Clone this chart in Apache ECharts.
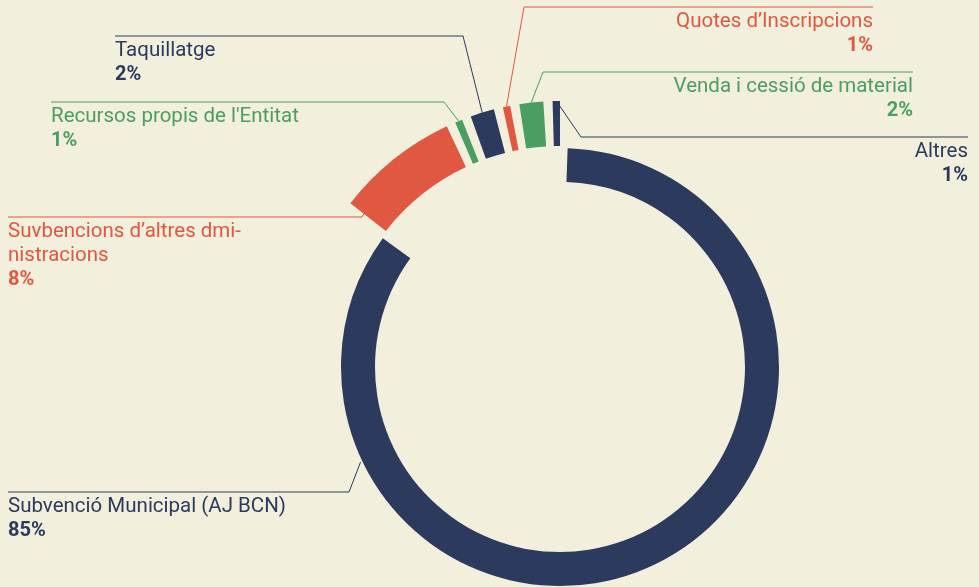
<!DOCTYPE html>
<html>
<head>
<meta charset="utf-8">
<script src="https://cdn.jsdelivr.net/npm/echarts@6/dist/echarts.min.js"></script>
<style>
    html, body { margin: 0; padding: 0; background: #f2efdc; }
    #main { width: 979px; height: 587px; }
</style>
</head>
<body>
<div id="main"></div>
<script>
    // dades del pressupost (ingressos)
    const categories = [
        'Subvenció Municipal (AJ BCN)',
        'Suvbencions d’altres dmi-\nnistracions',
        "Recursos propis de l'Entitat",
        'Taquillatge',
        'Quotes d’Inscripcions',
        'Venda i cessió de material',
        'Altres'
    ];
    const values = [85, 8, 1, 2, 1, 2, 1];

    const navy = '#2b3a5d', red = '#e05842', green = '#4a9e62';
    const colors = [navy, red, green, navy, red, green, navy];

    // on va cada etiqueta: costat, x del text, y de la línia, x del colze
    const labelSpots = [
        {side: 'left', textX: 8, lineY: 492, elbowX: 349},
        {side: 'left', textX: 8, lineY: 217, elbowX: 362},
        {side: 'left', textX: 51, lineY: 102, elbowX: 444},
        {side: 'left', textX: 115, lineY: 36, elbowX: 463},
        {side: 'right', textX: 873, lineY: 7, elbowX: 524},
        {side: 'right', textX: 913, lineY: 72, elbowX: 543},
        {side: 'right', textX: 968, lineY: 137, elbowX: 581}
    ];

    const center = [560, 367];
    const innerRing = [185, 219];
    const outerRing = [221, 266];

    function ringPoint(deg, r) {
        let a = deg * Math.PI / 180;
        return [center[0] + r * Math.sin(a), center[1] - r * Math.cos(a)];
    }

    function placeLabel(params) {
        let s = labelSpots[params.dataIndex];
        let anchor = params.dataIndex === 0
            ? ringPoint(244.5, innerRing[1] + 2)
            : (params.labelLinePoints ? params.labelLinePoints[0] : [s.elbowX, s.lineY]);
        return {
            x: s.textX,
            y: s.lineY + 3,
            align: s.side,
            verticalAlign: 'top',
            labelLinePoints: [anchor, [s.elbowX, s.lineY], [s.textX, s.lineY]]
        };
    }

    function buildData(showMain) {
        return categories.map(function (name, i) {
            let visible = (i === 0) === showMain;
            return {
                name: name,
                value: values[i],
                itemStyle: {color: visible ? colors[i] : 'transparent'},
                label: {show: visible, color: colors[i]},
                labelLine: {show: visible, lineStyle: {color: colors[i], width: 1}}
            };
        });
    }

    let label = {
        position: 'outside',
        formatter: function (p) {
            return '{n|' + p.name + '}\n{p|' + p.value + '%}';
        },
        rich: {
            n: {fontFamily: 'Roboto', fontSize: 20.5, lineHeight: 24},
            p: {fontFamily: 'Roboto', fontSize: 20, lineHeight: 24, fontWeight: 'bold'}
        }
    };

    let myChart = echarts.init(document.getElementById('main'));
    let option = {
        backgroundColor: '#f2efdc',
        animation: false,
        series: [
            {
                type: 'pie',
                center: center,
                radius: innerRing,
                startAngle: 89,
                padAngle: 2,
                avoidLabelOverlap: false,
                silent: true,
                label: label,
                labelLine: {show: true},
                labelLayout: placeLabel,
                data: buildData(true)
            },
            {
                type: 'pie',
                center: center,
                radius: outerRing,
                startAngle: 89,
                padAngle: 2,
                avoidLabelOverlap: false,
                silent: true,
                label: label,
                labelLine: {show: true},
                labelLayout: placeLabel,
                data: buildData(false)
            }
        ]
    };
    myChart.setOption(option);
</script>
</body>
</html>
